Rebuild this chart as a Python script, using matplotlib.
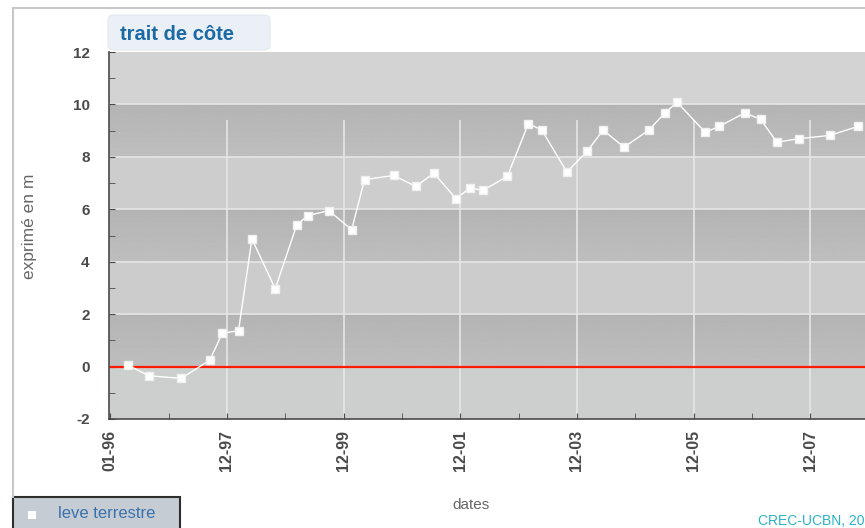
import numpy as np
import matplotlib
matplotlib.use("Agg")
import matplotlib.pyplot as plt
from matplotlib.patches import Rectangle, FancyBboxPatch
from matplotlib.lines import Line2D

plt.rcParams['font.family'] = ['Liberation Sans', 'DejaVu Sans']

# survey dates (decimal years) and shoreline position (m)
dates = [1996.31, 1996.66, 1997.22, 1997.71, 1997.92, 1998.20, 1998.43, 1998.83,
         1999.20, 1999.39, 1999.75, 2000.14, 2000.36, 2000.86, 2001.24, 2001.55,
         2001.93, 2002.17, 2002.39, 2002.81, 2003.17, 2003.40, 2003.83, 2004.18,
         2004.45, 2004.81, 2005.24, 2005.51, 2005.72, 2006.20, 2006.44, 2006.88,
         2007.15, 2007.43, 2007.80, 2008.34, 2008.82]
values = [0.05, -0.35, -0.45, 0.25, 1.27, 1.37, 4.87, 2.97,
          5.41, 5.76, 5.95, 5.22, 7.13, 7.29, 6.87, 7.38,
          6.40, 6.82, 6.72, 7.26, 9.27, 9.02, 7.42, 8.22,
          9.02, 8.37, 9.03, 9.68, 10.08, 8.94, 9.16, 9.68,
          9.43, 8.56, 8.69, 8.82, 9.16]

tick_pos = [1996, 1998, 2000, 2002, 2004, 2006, 2008]
tick_labels = ['01-96', '12-97', '12-99', '12-01', '12-03', '12-05', '12-07']
y_ticks = [-2, 0, 2, 4, 6, 8, 10, 12]

W, H = 865, 528
fig = plt.figure(figsize=(W / 100, H / 100), dpi=100)
fig.patch.set_facecolor('white')

def px(x, y):
    # pixel (top-left origin) -> figure fraction
    return x / W, 1 - y / H

ax_l, ax_t, ax_b = 109, 52, 419
ax = fig.add_axes([ax_l / W, 1 - ax_b / H, (W - ax_l) / W, (ax_b - ax_t) / H])

# alternating bands, dark ones get lighter toward the bottom
light = ['#cdcfcf', '#cccccc', '#cdcdcd', '#d3d3d3']
for i, lo in enumerate([-2, 2, 6, 10]):
    ax.axhspan(lo, lo + 2, color=light[i], zorder=0, lw=0)
for lo in [0, 4, 8]:
    grad = np.linspace(0.705, 0.745, 50).reshape(-1, 1)
    ax.imshow(grad, cmap='gray', vmin=0, vmax=1, aspect='auto',
              extent=(1995.98, 2008.94, lo, lo + 2), zorder=0, interpolation='bilinear')
ax.set_xlim(1995.98, 2008.94)
ax.set_ylim(-2, 12)

for yv in y_ticks[1:-1]:
    ax.axhline(yv, color='#e6e6e6', lw=1.2, zorder=1)
for xv in tick_pos[1:]:
    ax.vlines(xv, -2, 9.4, color='#e6e6e6', lw=1.2, zorder=1)

ax.axhline(0, color='#ff1a00', lw=1.6, zorder=2)

ax.plot(dates, values, color='white', lw=1.0, marker='s', ms=5.5,
        mfc='white', mec='#f0f0f0', zorder=3)

for s in ['top', 'right']:
    ax.spines[s].set_visible(False)
for s in ['left', 'bottom']:
    ax.spines[s].set_color('#4a4a4a')
    ax.spines[s].set_linewidth(1.2)

ax.set_xticks(tick_pos)
ax.set_xticklabels(tick_labels, rotation=90, fontsize=11.5, fontweight='bold', color='#4a4a4a')
ax.set_xticks(np.arange(1997, 2009, 2), minor=True)
ax.set_yticks(y_ticks)
ax.set_yticklabels([str(v) for v in y_ticks], fontsize=11, fontweight='bold', color='#4a4a4a')
ax.set_yticks(np.arange(-1, 12, 2), minor=True)
ax.tick_params(which='both', direction='in', color='#4a4a4a', length=4)
ax.tick_params(axis='y', pad=14)
ax.tick_params(axis='x', pad=8)

# outer frame
fig.add_artist(Line2D([13 / W, 1], [1 - 8 / H, 1 - 8 / H], color='#c8c8c8', lw=1.5))
fig.add_artist(Line2D([13 / W, 13 / W], [1 - 8 / H, 1 - 497 / H], color='#c8c8c8', lw=1.5))

# title tab
x0, y0 = px(108, 50)
fig.add_artist(FancyBboxPatch((x0, y0), 162 / W, 35 / H,
                              boxstyle='round,pad=0,rounding_size=0.008',
                              fc='#eaf0f5', ec='#e4e9ee', lw=0.8))
fig.text(120 / W, 1 - 34 / H, 'trait de côte', fontsize=14.5, fontweight='bold',
         color='#1b6aa5', va='center', ha='left')

fig.text(30 / W, 1 - 226 / H, 'exprimé en m', rotation=90, fontsize=12.5,
         color='#666666', ha='center', va='center')
fig.text(471 / W, 1 - 505 / H, 'dates', fontsize=11, color='#666666',
         ha='center', va='center')

# legend box
lx, ly = px(13, 530)
fig.add_artist(Rectangle((lx, ly), 167 / W, 33 / H, fc='#c6ccd3', ec='#2e2e2e', lw=1.5))
fig.add_artist(Rectangle(px(28, 519), 8 / W, 8 / H, fc='white', ec='none'))
fig.text(58 / W, 1 - 513 / H, 'leve terrestre', fontsize=12, color='#3a72ad',
         ha='left', va='center')

fig.text(1.0, 1 - 521 / H, 'CREC-UCBN, 20', fontsize=10, color='#29b3c6',
         ha='right', va='center')

fig.savefig('out.png', dpi=100)
